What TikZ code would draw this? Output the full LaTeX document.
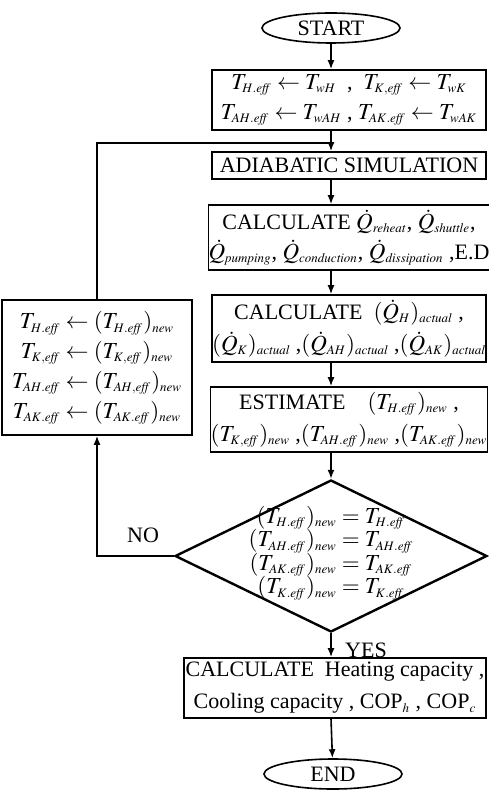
\documentclass[tikz,border=0pt]{standalone}
\usepackage{amsmath}
\usepackage{mathptmx}
\usepackage{fontspec}
\setmainfont{Liberation Serif}
\DeclareMathSizes{11}{11.5}{6.5}{5}
\usepackage{tikz}
\usetikzlibrary{shapes.geometric,arrows.meta}

\begin{document}
\begin{tikzpicture}[x=0.5pt, y=-0.5pt, font=\fontsize{11}{13}\selectfont,
  box/.style={draw, thick, align=center, inner sep=0pt},
  term/.style={draw, thick, ellipse, minimum width=69pt, minimum height=15pt, inner sep=0pt},
  flow/.style={thick, -{Latex[length=4.5pt, width=3.5pt]}}]
\useasboundingbox (0,0) rectangle (488,790);
\node[term] (start) at (331,28) {START};
\node[box, minimum width=137pt, minimum height=30pt] (init) at (349,100)
  {$T_{H.\mathit{eff}} \leftarrow T_{wH}$\ \ ,\ \ $T_{K,\mathit{eff}} \leftarrow T_{wK}$\\[2pt]
   $T_{AH.\mathit{eff}} \leftarrow T_{wAH}$\ ,\ $T_{AK.\mathit{eff}} \leftarrow T_{wAK}$};
\node[box, minimum width=137pt, minimum height=13.5pt] (adiab) at (349,165.5) {ADIABATIC SIMULATION};
\node[box, minimum width=137pt, minimum height=32.5pt] (rates) at (349,237.5)
  {CALCULATE $\dot{Q}_{\mathit{reheat}}$, $\dot{Q}_{\mathit{shuttle}}$,\\[2pt]
   $\dot{Q}_{\mathit{pumping}}$, $\dot{Q}_{\mathit{conduction}}$, $\dot{Q}_{\mathit{dissipation}}$ ,E.D};
\node[box, minimum width=137pt, minimum height=33.5pt] (heats) at (349,328.5)
  {CALCULATE\ \ $(\dot{Q}_H)_{\mathit{actual}}$ ,\\[3pt]
   $(\dot{Q}_K)_{\mathit{actual}}$ ,$(\dot{Q}_{AH})_{\mathit{actual}}$ ,$(\dot{Q}_{AK})_{\mathit{actual}}$};
\node[box, minimum width=137pt, minimum height=32.5pt] (estim) at (349,419.5)
  {ESTIMATE\quad $(T_{H.\mathit{eff}})_{\mathit{new}}$ ,\\[3pt]
   $(T_{K,\mathit{eff}})_{\mathit{new}}$ ,$(T_{AH.\mathit{eff}})_{\mathit{new}}$ ,$(T_{AK.\mathit{eff}})_{\mathit{new}}$};
\node[draw, very thick, diamond, minimum width=156pt, minimum height=76pt, inner sep=0pt] (cond) at (331,556) {};
\node (condtext) at (331,553)
  {\renewcommand\arraystretch{0.8}$\begin{array}{r@{\;=\;}l}
   (T_{H.\mathit{eff}})_{\mathit{new}} & T_{H.\mathit{eff}}\\
   (T_{AH.\mathit{eff}})_{\mathit{new}} & T_{AH.\mathit{eff}}\\
   (T_{AK.\mathit{eff}})_{\mathit{new}} & T_{AK.\mathit{eff}}\\
   (T_{K.\mathit{eff}})_{\mathit{new}} & T_{K.\mathit{eff}}
   \end{array}$};
\node[box, minimum width=90pt, minimum height=67.5pt] (upd) at (97,367.5)
  {\renewcommand\arraystretch{1.15}$\begin{array}{r@{\;\leftarrow\;}l}
   T_{H.\mathit{eff}} & (T_{H.\mathit{eff}})_{\mathit{new}}\\
   T_{K,\mathit{eff}} & (T_{K,\mathit{eff}})_{\mathit{new}}\\
   T_{AH.\mathit{eff}} & (T_{AH,\mathit{eff}})_{\mathit{new}}\\
   T_{AK.\mathit{eff}} & (T_{AK.\mathit{eff}})_{\mathit{new}}
   \end{array}$};
\node[box, minimum width=151pt, minimum height=30pt] (perf) at (335,688)
  {CALCULATE\ \ Heating capacity ,\\[3pt]
   Cooling capacity , COP$_h$ , COP$_c$};
\node[term] (end) at (333,774) {END};
\node (nolbl) at (143,535) {NO};
\node (yeslbl) at (366,650) {YES};
\coordinate (joint) at (331,143);
\draw[flow] (start) -- (start |- init.north);
\draw[flow] (init.south -| start) -- (start |- adiab.north);
\draw[flow] (start |- adiab.south) -- (start |- rates.north);
\draw[flow] (start |- rates.south) -- (start |- heats.north);
\draw[flow] (start |- heats.south) -- (start |- estim.north);
\draw[flow] (start |- estim.south) -- (cond.north);
\draw[flow] (cond.south) -- (cond.south |- perf.north);
\draw[flow] (start |- perf.south) -- (end);
\draw[flow] (cond.west) -| (upd.south);
\draw[thick] (upd.north) |- (joint);
\end{tikzpicture}
\end{document}
